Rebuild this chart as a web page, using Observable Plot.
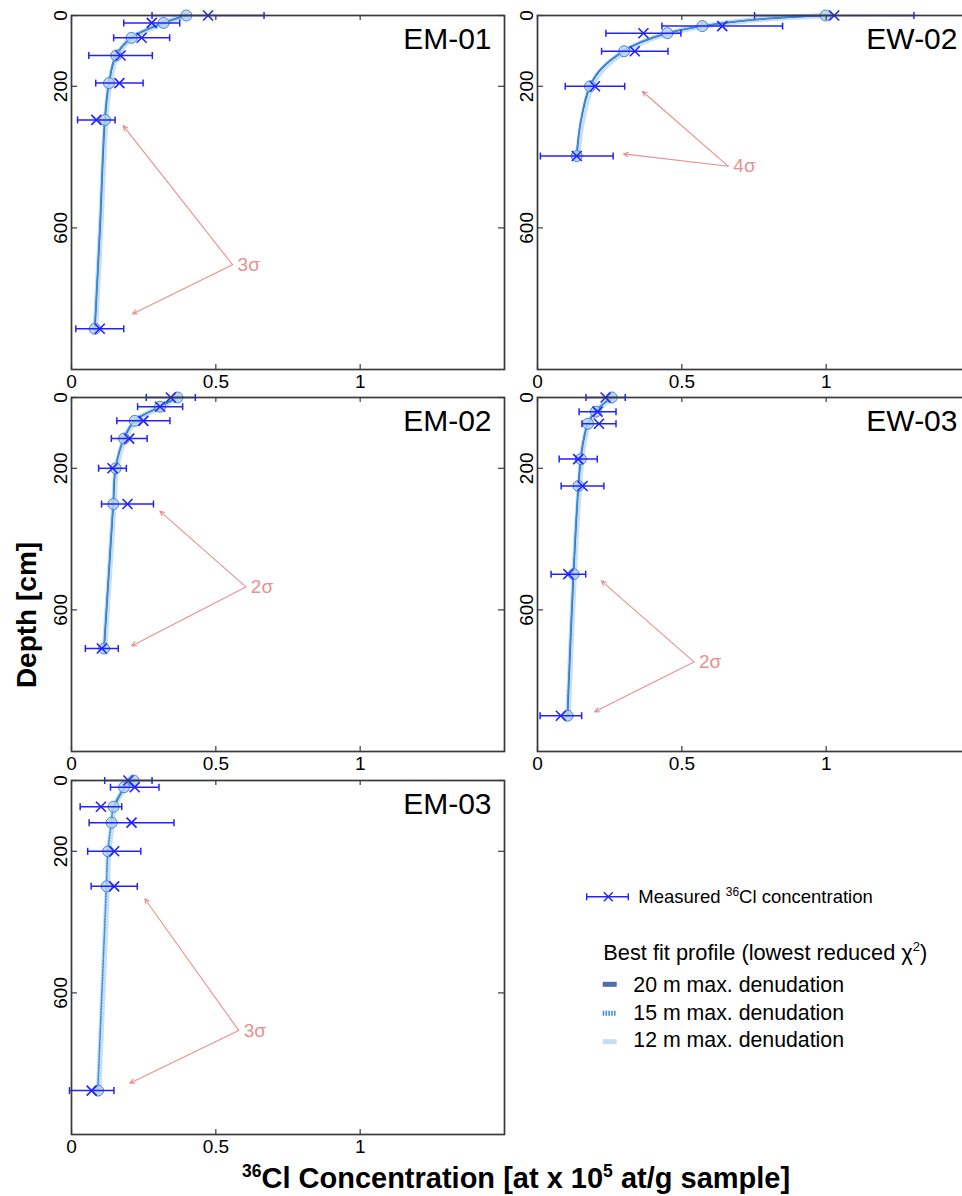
<!DOCTYPE html>
<html><head><meta charset="utf-8">
<script src="https://cdn.jsdelivr.net/npm/d3@7"></script>
<script src="https://cdn.jsdelivr.net/npm/@observablehq/plot@0.6"></script>
<style>
html,body{margin:0;padding:0;background:#fff;overflow:hidden;}
#fig{position:relative;width:962px;height:1196px;overflow:hidden;background:#fff;font-family:"Liberation Sans",Arial,sans-serif;}
.panel{position:absolute;}
#overlay{position:absolute;left:0;top:0;}
</style></head><body><div id="fig"></div>
<script>
// ---------- tick labels ----------
const xTicks = [0, 0.5, 1];
const yTicks = [0, 200, 600];

// ---------- EM-01 ----------
const EM01_depth = [0, 21, 63, 113, 191, 295, 885];
const EM01_conc  = [0.473, 0.278, 0.243, 0.170, 0.166, 0.086, 0.098];
const EM01_err   = [0.194, 0.097, 0.097, 0.110, 0.082, 0.065, 0.083];
const EM01_model = [0.398, 0.319, 0.208, 0.155, 0.130, 0.116, 0.081];
const EM01_fitDepth = [0, 21, 63, 113, 191, 295, 600, 885];
const EM01_fit20 = [0.398, 0.319, 0.208, 0.155, 0.130, 0.116, 0.099, 0.081];
const EM01_fit15 = [0.396, 0.318, 0.207, 0.154, 0.129, 0.115, 0.098, 0.080];
const EM01_fit12 = [0.401, 0.322, 0.211, 0.158, 0.133, 0.119, 0.101, 0.083];

// ---------- EW-02 ----------
const EW02_depth = [0, 30, 50, 101, 200, 397];
const EW02_conc  = [1.028, 0.640, 0.367, 0.337, 0.199, 0.136];
const EW02_err   = [0.276, 0.209, 0.130, 0.115, 0.103, 0.126];
const EW02_model = [0.998, 0.571, 0.450, 0.300, 0.182, 0.136];
const EW02_fitDepth = [0, 10, 30, 50, 75, 100, 150, 200, 300, 397];
const EW02_fit20 = [0.998, 0.780, 0.571, 0.450, 0.360, 0.300, 0.222, 0.182, 0.150, 0.136];
const EW02_fit15 = [0.996, 0.776, 0.569, 0.448, 0.358, 0.298, 0.220, 0.180, 0.149, 0.135];
const EW02_fit12 = [1.002, 0.786, 0.577, 0.456, 0.366, 0.306, 0.228, 0.188, 0.155, 0.139];

// ---------- EM-02 ----------
const EM02_depth = [0, 26, 66, 116, 200, 301, 709];
const EM02_conc  = [0.344, 0.307, 0.249, 0.200, 0.142, 0.194, 0.105];
const EM02_err   = [0.085, 0.078, 0.092, 0.062, 0.048, 0.090, 0.057];
const EM02_model = [0.367, 0.307, 0.219, 0.182, 0.153, 0.145, 0.113];
const EM02_fitDepth = [0, 26, 66, 116, 200, 301, 709];
const EM02_fit20 = [0.367, 0.307, 0.219, 0.182, 0.153, 0.145, 0.113];
const EM02_fit15 = [0.365, 0.306, 0.218, 0.181, 0.152, 0.144, 0.112];
const EM02_fit12 = [0.370, 0.310, 0.222, 0.185, 0.156, 0.147, 0.115];

// ---------- EW-03 ----------
const EW03_depth = [0, 40, 74, 174, 250, 499, 899];
const EW03_conc  = [0.236, 0.208, 0.213, 0.141, 0.156, 0.107, 0.081];
const EW03_err   = [0.068, 0.064, 0.059, 0.066, 0.074, 0.060, 0.072];
const EW03_model = [0.257, 0.202, 0.175, 0.150, 0.142, 0.125, 0.104];
const EW03_fitDepth = [0, 38, 73, 120, 174, 250, 499, 899];
const EW03_fit20 = [0.257, 0.202, 0.175, 0.160, 0.150, 0.142, 0.125, 0.104];
const EW03_fit15 = [0.256, 0.201, 0.174, 0.159, 0.149, 0.141, 0.124, 0.103];
const EW03_fit12 = [0.260, 0.205, 0.178, 0.163, 0.153, 0.145, 0.127, 0.106];

// ---------- EM-03 ----------
const EM03_depth = [0, 19, 74, 119, 200, 299, 876];
const EM03_conc  = [0.197, 0.219, 0.102, 0.208, 0.148, 0.148, 0.070];
const EM03_err   = [0.082, 0.084, 0.072, 0.147, 0.092, 0.080, 0.077];
const EM03_model = [0.215, 0.182, 0.146, 0.139, 0.127, 0.122, 0.092];
const EM03_fitDepth = [0, 23, 78, 120, 200, 299, 876];
const EM03_fit20 = [0.215, 0.182, 0.146];
const EM03_fit15 = [0.214, 0.181, 0.145, 0.138, 0.126, 0.121, 0.091];
const EM03_fit12 = [0.217, 0.184, 0.148, 0.141, 0.129, 0.124, 0.094];

// ---------- annotations (sigma label, label origin [conc, depth], arrow targets) ----------
const EM01_sigma = "3σ", EM01_annOrigin = [0.558, 704], EM01_annTargets = [[0.179, 311], [0.211, 843]];
const EW02_sigma = "4σ", EW02_annOrigin = [0.661, 426], EW02_annTargets = [[0.363, 214], [0.298, 391]];
const EM02_sigma = "2σ", EM02_annOrigin = [0.604, 535], EM02_annTargets = [[0.306, 321], [0.208, 702]];
const EW03_sigma = "2σ", EW03_annOrigin = [0.542, 747], EW03_annTargets = [[0.221, 518], [0.198, 888]];
const EM03_sigma = "3σ", EM03_annOrigin = [0.579, 706], EM03_annTargets = [[0.254, 334], [0.202, 855]];

const panels = [
  {name: "EM-01", col: 0, row: 0, depth: EM01_depth, conc: EM01_conc, err: EM01_err, model: EM01_model,
   fitDepth: EM01_fitDepth, fit20: EM01_fit20, fit15: EM01_fit15, fit12: EM01_fit12,
   sigma: EM01_sigma, origin: EM01_annOrigin, targets: EM01_annTargets},
  {name: "EW-02", col: 1, row: 0, depth: EW02_depth, conc: EW02_conc, err: EW02_err, model: EW02_model,
   fitDepth: EW02_fitDepth, fit20: EW02_fit20, fit15: EW02_fit15, fit12: EW02_fit12,
   sigma: EW02_sigma, origin: EW02_annOrigin, targets: EW02_annTargets},
  {name: "EM-02", col: 0, row: 1, depth: EM02_depth, conc: EM02_conc, err: EM02_err, model: EM02_model,
   fitDepth: EM02_fitDepth, fit20: EM02_fit20, fit15: EM02_fit15, fit12: EM02_fit12,
   sigma: EM02_sigma, origin: EM02_annOrigin, targets: EM02_annTargets},
  {name: "EW-03", col: 1, row: 1, depth: EW03_depth, conc: EW03_conc, err: EW03_err, model: EW03_model,
   fitDepth: EW03_fitDepth, fit20: EW03_fit20, fit15: EW03_fit15, fit12: EW03_fit12,
   sigma: EW03_sigma, origin: EW03_annOrigin, targets: EW03_annTargets},
  {name: "EM-03", col: 0, row: 2, depth: EM03_depth, conc: EM03_conc, err: EM03_err, model: EM03_model,
   fitDepth: EM03_fitDepth, fit20: EM03_fit20, fit15: EM03_fit15, fit12: EM03_fit12,
   sigma: EM03_sigma, origin: EM03_annOrigin, targets: EM03_annTargets}
];

// ---------- layout & style ----------
const colLeft = [70.7, 536.7];
const rowTop = [15, 397.3, 780];
const frameW = 433, frameH = 354;
const ml = 50, mr = 6, mt = 10, mb = 40;
const FONT = "'Liberation Sans', Arial, Helvetica, sans-serif";
const BLUE = "#2222ff";
const ANN = "#e8908f";

const capSymbol = {draw(ctx, size) { const r = Math.sqrt(size / Math.PI); ctx.moveTo(0, -r); ctx.lineTo(0, r); }};
const crossSymbol = {draw(ctx, size) { const r = Math.sqrt(size / Math.PI); ctx.moveTo(-r, -r); ctx.lineTo(r, r); ctx.moveTo(-r, r); ctx.lineTo(r, -r); }};

const fig = document.getElementById("fig");

for (const p of panels) {
  const meas = p.depth.map((d, i) => ({depth: d, conc: p.conc[i], err: p.err[i]}));
  const model = p.depth.map((d, i) => ({depth: d, conc: p.model[i]}));
  const fit = (arr) => arr.map((c, i) => ({depth: p.fitDepth[i], conc: c}));
  const [ox, oy] = p.origin;

  const chart = Plot.plot({
    width: ml + frameW + mr,
    height: mt + frameH + mb,
    marginLeft: ml, marginRight: mr, marginTop: mt, marginBottom: mb,
    x: {domain: [0, 1.5]},
    y: {domain: [0, 1000], reverse: true},
    style: {background: "transparent", overflow: "visible", fontFamily: FONT, fontSize: "19px", color: "#000", maxWidth: "none"},
    marks: [
      Plot.line(fit(p.fit12), {x: "conc", y: "depth", curve: "catmull-rom", stroke: "#c2dbf0", strokeWidth: 5.5, strokeOpacity: 0.9}),
      Plot.line(fit(p.fit20), {x: "conc", y: "depth", curve: "catmull-rom", stroke: "#2c5e9f", strokeWidth: 1.5}),
      Plot.line(fit(p.fit15), {x: "conc", y: "depth", curve: "catmull-rom", stroke: "#3a8ee0", strokeWidth: 1.6, strokeDasharray: "1.3,1.5"}),
      Plot.dot(model, {x: "conc", y: "depth", r: 5.5, fill: "#b3d2ee", fillOpacity: 0.85, stroke: "#4a88c8", strokeWidth: 1}),
      Plot.link(meas, {x1: d => d.conc - d.err, x2: d => d.conc + d.err, y1: "depth", y2: "depth", stroke: BLUE, strokeWidth: 1.5}),
      Plot.dot(meas, {x: d => d.conc - d.err, y: "depth", symbol: capSymbol, r: 3.5, stroke: BLUE, strokeWidth: 1.5, fill: "none"}),
      Plot.dot(meas, {x: d => d.conc + d.err, y: "depth", symbol: capSymbol, r: 3.5, stroke: BLUE, strokeWidth: 1.5, fill: "none"}),
      Plot.dot(meas, {x: "conc", y: "depth", symbol: crossSymbol, r: 5, stroke: BLUE, strokeWidth: 1.6, fill: "none"}),
      Plot.arrow(p.targets, {x1: () => ox, y1: () => oy, x2: d => d[0], y2: d => d[1], stroke: ANN, strokeWidth: 1.1, headLength: 7, headAngle: 50, bend: 0}),
      Plot.text([p.sigma], {x: () => ox, y: () => oy, text: d => d, dx: 5, textAnchor: "start", lineAnchor: "middle", fill: ANN, fontSize: 19}),
      Plot.text([p.name], {frameAnchor: "top-right", text: d => d, dx: -13, dy: 33, textAnchor: "end", lineAnchor: "bottom", fontSize: 30, fill: "#000"}),
      Plot.frame({stroke: "#3a3a3a", strokeWidth: 1.7}),
      Plot.tickX(xTicks, {x: d => d, insetTop: frameH - 5, stroke: "#3a3a3a", strokeWidth: 1.2}),
      Plot.tickX(xTicks, {x: d => d, insetBottom: frameH - 5, stroke: "#3a3a3a", strokeWidth: 1.2}),
      Plot.tickY(yTicks, {y: d => d, insetRight: frameW - 6, stroke: "#3a3a3a", strokeWidth: 1.2}),
      Plot.tickY(yTicks, {y: d => d, insetLeft: frameW - 6, stroke: "#3a3a3a", strokeWidth: 1.2}),
      Plot.axisX({ticks: xTicks, tickSize: 0, tickPadding: 5, tickFormat: d => String(d), label: null, fontSize: 19}),
      Plot.axisY({ticks: yTicks, tickSize: 0, tickRotate: -90, tickPadding: 5, tickFormat: d => String(d), label: null, fontSize: 19})
    ]
  });

  const div = document.createElement("div");
  div.className = "panel";
  div.style.left = (colLeft[p.col] - ml) + "px";
  div.style.top = (rowTop[p.row] - mt) + "px";
  div.style.width = (ml + frameW + mr) + "px";
  div.style.height = (mt + frameH + mb) + "px";
  div.appendChild(chart);
  fig.appendChild(div);
}

// ---------- titles & legend ----------
const NS = "http://www.w3.org/2000/svg";
const ov = document.createElementNS(NS, "svg");
ov.setAttribute("id", "overlay");
ov.setAttribute("width", 962);
ov.setAttribute("height", 1196);
ov.style.fontFamily = FONT;
ov.innerHTML = `
  <text transform="translate(35.5,615) rotate(-90)" text-anchor="middle" font-size="28" font-weight="bold" fill="#000">Depth [cm]</text>
  <text x="242" y="1188" font-size="29" font-weight="bold" fill="#000"><tspan font-size="17.5" dy="-11">36</tspan><tspan dy="11">Cl Concentration [at x 10</tspan><tspan font-size="17.5" dy="-11">5</tspan><tspan dy="11"> at/g sample]</tspan></text>

  <line x1="586.7" x2="628.3" y1="896.7" y2="896.7" stroke="${BLUE}" stroke-width="1.4"/>
  <line x1="586.7" x2="586.7" y1="893.2" y2="900.2" stroke="${BLUE}" stroke-width="1.4"/>
  <line x1="628.3" x2="628.3" y1="893.2" y2="900.2" stroke="${BLUE}" stroke-width="1.4"/>
  <path d="M603.8,892.2L612.8,901.2M603.8,901.2L612.8,892.2" stroke="${BLUE}" stroke-width="1.4" fill="none"/>
  <text x="638.3" y="903" font-size="18.5" fill="#000">Measured <tspan font-size="12" dy="-7.5">36</tspan><tspan dy="7.5">Cl concentration</tspan></text>

  <text x="603.3" y="959.8" font-size="21.8" fill="#000">Best fit profile (lowest reduced χ<tspan font-size="13" dy="-9">2</tspan><tspan dy="9">)</tspan></text>
  <rect x="602.7" y="981.8" width="14" height="5" fill="#4f6fa9"/>
  <line x1="602.7" x2="616.7" y1="1013.3" y2="1013.3" stroke="#3d8fd8" stroke-width="5" stroke-dasharray="1.6,1.2"/>
  <rect x="602.7" y="1039.2" width="14" height="5" fill="#c6ddf0"/>
  <text x="633.3" y="992" font-size="21.3" fill="#000">20 m max. denudation</text>
  <text x="633.3" y="1019.8" font-size="21.3" fill="#000">15 m max. denudation</text>
  <text x="633.3" y="1047.2" font-size="21.3" fill="#000">12 m max. denudation</text>
`;
fig.appendChild(ov);
</script>
</body></html>
